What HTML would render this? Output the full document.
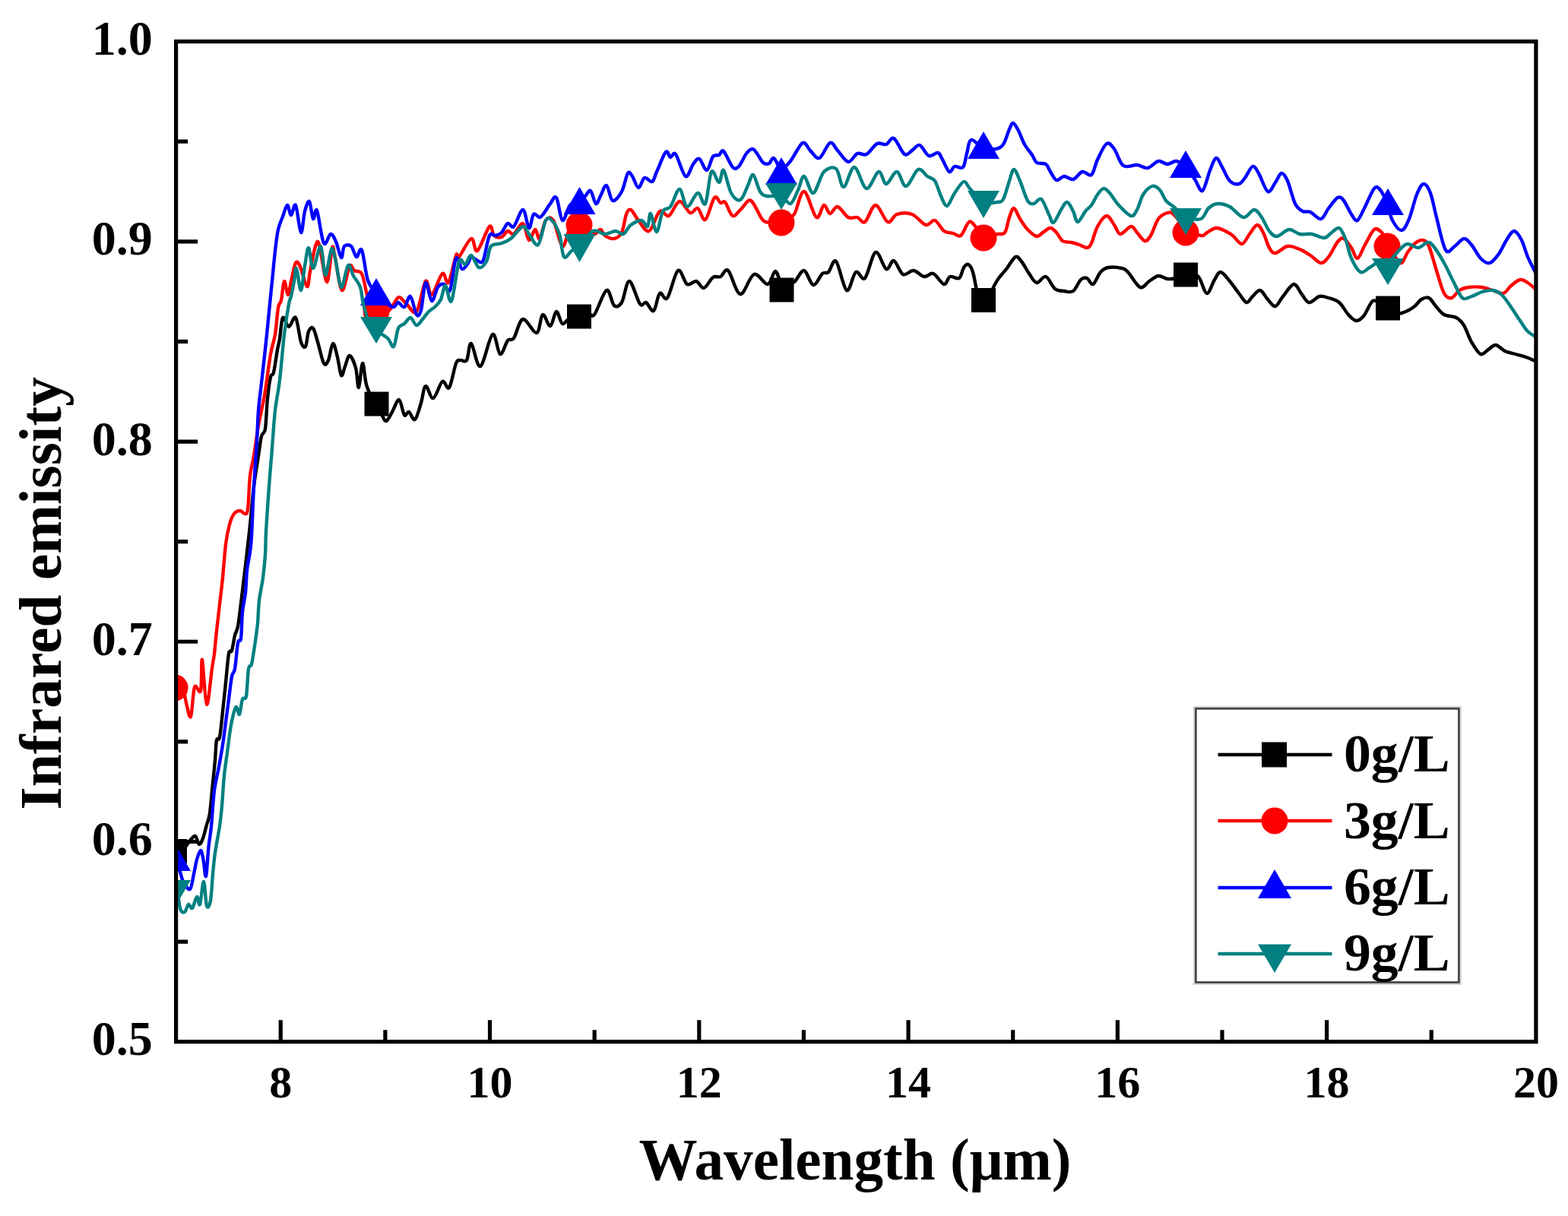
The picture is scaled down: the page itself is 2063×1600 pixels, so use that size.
<!DOCTYPE html>
<html><head><meta charset="utf-8"><title>Infrared emissity vs wavelength</title>
<style>html,body{margin:0;padding:0;background:#fff;}svg{display:block;}text{font-family:"Liberation Serif","Times New Roman",serif;font-weight:bold;fill:#000;}</style>
</head><body>
<svg width="2063" height="1600" viewBox="0 0 2063 1600">
<rect x="0" y="0" width="2063" height="1600" fill="#fff"/>
<defs><clipPath id="pa"><rect x="231.6" y="54.6" width="1789.3" height="1316.1"/></clipPath></defs>
<g clip-path="url(#pa)" fill="none" stroke-width="4.4" stroke-linejoin="round" stroke-linecap="round">
<path stroke="#000" d="M228 1118C230.0 1118.0 236.3 1120.0 240 1118C243.7 1116.0 247.2 1109.0 250 1106C252.8 1103.0 255.0 1099.2 257 1100C259.0 1100.8 260.3 1110.5 262 1111C263.7 1111.5 265.3 1107.3 267 1103C268.7 1098.7 270.5 1090.5 272 1085C273.5 1079.5 274.7 1079.2 276 1070C277.3 1060.8 278.8 1041.7 280 1030C281.2 1018.3 282.2 1009.3 283 1000C283.8 990.7 284.0 979.0 285 974C286.0 969.0 287.7 976.3 289 970C290.3 963.7 291.7 948.0 293 936C294.3 924.0 295.7 910.7 297 898C298.3 885.3 299.7 867.0 301 860C302.3 853.0 303.7 860.0 305 856C306.3 852.0 307.7 841.3 309 836C310.3 830.7 311.7 831.0 313 824C314.3 817.0 314.5 814.7 317 794C319.5 773.3 325.2 725.7 328 700C330.8 674.3 332.0 656.7 334 640C336.0 623.3 338.3 611.0 340 600C341.7 589.0 342.5 580.0 344 574C345.5 568.0 347.7 572.3 349 564C350.3 555.7 350.8 535.3 352 524C353.2 512.7 354.7 501.7 356 496C357.3 490.3 358.5 496.0 360 490C361.5 484.0 363.7 467.3 365 460C366.3 452.7 366.8 453.0 368 446C369.2 439.0 370.0 420.7 372 418C374.0 415.3 377.2 430.0 380 430C382.8 430.0 386.3 414.7 389 418C391.7 421.3 393.8 443.7 396 450C398.2 456.3 400.3 458.3 402 456C403.7 453.7 404.3 440.0 406 436C407.7 432.0 410.0 429.7 412 432C414.0 434.3 415.7 442.3 418 450C420.3 457.7 423.7 474.0 426 478C428.3 482.0 430.0 478.3 432 474C434.0 469.7 436.0 452.7 438 452C440.0 451.3 442.2 463.0 444 470C445.8 477.0 447.3 492.0 449 494C450.7 496.0 452.2 486.3 454 482C455.8 477.7 457.7 467.7 460 468C462.3 468.3 466.0 477.0 468 484C470.0 491.0 470.5 511.0 472 510C473.5 509.0 475.3 478.7 477 478C478.7 477.3 479.8 498.2 482 506C484.2 513.8 487.8 520.8 490 525C492.2 529.2 493.0 527.7 495 531C497.0 534.3 499.8 541.2 502 545C504.2 548.8 505.7 554.5 508 554C510.3 553.5 513.2 546.7 516 542C518.8 537.3 522.3 525.3 525 526C527.7 526.7 529.8 543.3 532 546C534.2 548.7 535.7 541.0 538 542C540.3 543.0 543.3 554.0 546 552C548.7 550.0 551.7 537.3 554 530C556.3 522.7 557.3 509.0 560 508C562.7 507.0 566.3 525.0 570 524C573.7 523.0 578.5 504.3 582 502C585.5 499.7 588.0 514.0 591 510C594.0 506.0 597.5 484.0 600 478C602.5 472.0 603.7 474.7 606 474C608.3 473.3 611.7 477.7 614 474C616.3 470.3 617.0 450.7 620 452C623.0 453.3 627.3 484.0 632 482C636.7 480.0 643.7 442.7 648 440C652.3 437.3 654.7 464.7 658 466C661.3 467.3 665.0 451.5 668 448C671.0 444.5 672.7 449.7 676 445C679.3 440.3 683.0 421.2 688 420C693.0 418.8 701.7 439.0 706 438C710.3 437.0 711.0 415.5 714 414C717.0 412.5 721.0 429.7 724 429C727.0 428.3 729.3 410.5 732 410C734.7 409.5 737.0 424.7 740 426C743.0 427.3 746.3 419.7 750 418C753.7 416.3 758.0 417.0 762 416C766.0 415.0 770.7 412.3 774 412C777.3 411.7 778.0 419.0 782 414C786.0 409.0 793.7 384.0 798 382C802.3 380.0 804.7 399.3 808 402C811.3 404.7 814.7 403.3 818 398C821.3 392.7 824.0 369.7 828 370C832.0 370.3 838.3 395.3 842 400C845.7 404.7 847.0 396.5 850 398C853.0 399.5 857.0 411.0 860 409C863.0 407.0 865.0 388.8 868 386C871.0 383.2 874.0 397.0 878 392C882.0 387.0 887.7 359.0 892 356C896.3 353.0 900.0 371.7 904 374C908.0 376.3 912.3 369.2 916 370C919.7 370.8 922.3 379.8 926 379C929.7 378.2 934.3 367.5 938 365C941.7 362.5 944.7 365.5 948 364C951.3 362.5 953.7 352.2 958 356C962.3 359.8 968.3 386.2 974 387C979.7 387.8 986.0 363.2 992 361C998.0 358.8 1005.3 374.7 1010 374C1014.7 373.3 1017.0 357.3 1020 357C1023.0 356.7 1024.7 369.5 1028 372C1031.3 374.5 1037.0 372.3 1040 372C1043.0 371.7 1043.0 372.7 1046 370C1049.0 367.3 1054.0 355.2 1058 356C1062.0 356.8 1066.0 374.3 1070 375C1074.0 375.7 1078.7 362.8 1082 360C1085.3 357.2 1087.0 360.7 1090 358C1093.0 355.3 1096.0 340.0 1100 344C1104.0 348.0 1109.7 379.7 1114 382C1118.3 384.3 1122.0 360.7 1126 358C1130.0 355.3 1133.7 370.3 1138 366C1142.3 361.7 1147.3 334.0 1152 332C1156.7 330.0 1162.0 352.2 1166 354C1170.0 355.8 1172.3 341.8 1176 343C1179.7 344.2 1183.7 358.8 1188 361C1192.3 363.2 1197.3 355.5 1202 356C1206.7 356.5 1211.7 363.3 1216 364C1220.3 364.7 1223.7 358.3 1228 360C1232.3 361.7 1238.3 373.3 1242 374C1245.7 374.7 1246.7 365.3 1250 364C1253.3 362.7 1259.0 368.0 1262 366C1265.0 364.0 1266.0 355.0 1268 352C1270.0 349.0 1272.0 347.0 1274 348C1276.0 349.0 1277.8 351.0 1280 358C1282.2 365.0 1284.7 383.8 1287 390C1289.3 396.2 1291.5 395.3 1294 395C1296.5 394.7 1299.7 391.2 1302 388C1304.3 384.8 1306.0 379.7 1308 376C1310.0 372.3 1311.3 369.7 1314 366C1316.7 362.3 1320.3 358.7 1324 354C1327.7 349.3 1332.7 339.7 1336 338C1339.3 336.3 1341.0 340.3 1344 344C1347.0 347.7 1350.7 355.3 1354 360C1357.3 364.7 1360.3 371.3 1364 372C1367.7 372.7 1372.0 362.7 1376 364C1380.0 365.3 1384.0 376.8 1388 380C1392.0 383.2 1396.0 382.5 1400 383C1404.0 383.5 1408.3 385.5 1412 383C1415.7 380.5 1419.0 370.8 1422 368C1425.0 365.2 1427.3 365.0 1430 366C1432.7 367.0 1435.0 375.3 1438 374C1441.0 372.7 1444.7 361.7 1448 358C1451.3 354.3 1453.3 352.8 1458 352C1462.7 351.2 1471.7 352.0 1476 353C1480.3 354.0 1480.0 353.8 1484 358C1488.0 362.2 1495.3 376.0 1500 378C1504.7 380.0 1508.0 372.5 1512 370C1516.0 367.5 1520.0 363.5 1524 363C1528.0 362.5 1532.0 366.5 1536 367C1540.0 367.5 1544.0 366.8 1548 366C1552.0 365.2 1556.3 363.0 1560 362C1563.7 361.0 1567.0 359.3 1570 360C1573.0 360.7 1575.0 361.7 1578 366C1581.0 370.3 1584.7 385.7 1588 386C1591.3 386.3 1595.0 372.7 1598 368C1601.0 363.3 1602.7 357.7 1606 358C1609.3 358.3 1614.0 365.3 1618 370C1622.0 374.7 1626.3 381.3 1630 386C1633.7 390.7 1637.0 397.3 1640 398C1643.0 398.7 1645.0 392.7 1648 390C1651.0 387.3 1654.7 381.3 1658 382C1661.3 382.7 1664.7 390.5 1668 394C1671.3 397.5 1674.7 403.7 1678 403C1681.3 402.3 1684.0 394.8 1688 390C1692.0 385.2 1698.0 374.7 1702 374C1706.0 373.3 1708.7 382.0 1712 386C1715.3 390.0 1718.0 397.3 1722 398C1726.0 398.7 1731.7 391.0 1736 390C1740.3 389.0 1743.7 390.7 1748 392C1752.3 393.3 1757.7 394.3 1762 398C1766.3 401.7 1770.3 410.0 1774 414C1777.7 418.0 1780.7 421.7 1784 422C1787.3 422.3 1790.3 420.3 1794 416C1797.7 411.7 1802.3 398.7 1806 396C1809.7 393.3 1812.7 398.5 1816 400C1819.3 401.5 1822.7 403.3 1826 405C1829.3 406.7 1833.0 408.8 1836 410C1839.0 411.2 1840.0 413.0 1844 412C1848.0 411.0 1855.7 407.0 1860 404C1864.3 401.0 1866.7 396.0 1870 394C1873.3 392.0 1876.7 390.3 1880 392C1883.3 393.7 1886.7 400.3 1890 404C1893.3 407.7 1895.7 411.7 1900 414C1904.3 416.3 1911.7 415.7 1916 418C1920.3 420.3 1922.7 422.7 1926 428C1929.3 433.3 1932.3 443.7 1936 450C1939.7 456.3 1944.3 464.3 1948 466C1951.7 467.7 1954.7 462.0 1958 460C1961.3 458.0 1964.3 453.7 1968 454C1971.7 454.3 1975.7 460.0 1980 462C1984.3 464.0 1989.3 464.7 1994 466C1998.7 467.3 2003.3 468.3 2008 470C2012.7 471.7 2019.7 475.0 2022 476"/>
<g stroke="none"><rect x="214" y="1104" width="32" height="32" fill="#000"/><rect x="479.5" y="515.5" width="32" height="32" fill="#000"/><rect x="746" y="400.5" width="32" height="32" fill="#000"/><rect x="1012.5" y="365.5" width="32" height="32" fill="#000"/><rect x="1278" y="379" width="32" height="32" fill="#000"/><rect x="1544" y="345.5" width="32" height="32" fill="#000"/><rect x="1810" y="389.5" width="32" height="32" fill="#000"/></g>
<path stroke="#f00" d="M228 905C228.8 903.8 230.8 898.0 233 898C235.2 898.0 239.0 900.5 241 905C243.0 909.5 243.3 918.7 245 925C246.7 931.3 249.2 946.5 251 943C252.8 939.5 253.8 909.7 256 904C258.2 898.3 262.3 915.0 264 909C265.7 903.0 264.7 865.0 266 868C267.3 871.0 269.8 925.2 272 927C274.2 928.8 277.3 890.2 279 879C280.7 867.8 281.0 868.2 282 860C283.0 851.8 283.8 840.8 285 830C286.2 819.2 287.7 806.7 289 795C290.3 783.3 291.7 773.2 293 760C294.3 746.8 295.5 727.7 297 716C298.5 704.3 300.2 696.7 302 690C303.8 683.3 305.7 679.0 308 676C310.3 673.0 313.7 672.0 316 672C318.3 672.0 320.3 676.3 322 676C323.7 675.7 324.8 678.3 326 670C327.2 661.7 327.7 637.7 329 626C330.3 614.3 332.2 611.0 334 600C335.8 589.0 337.7 573.3 340 560C342.3 546.7 345.3 535.7 348 520C350.7 504.3 353.7 479.3 356 466C358.3 452.7 360.3 450.2 362 440C363.7 429.8 364.7 412.5 366 405C367.3 397.5 368.7 400.8 370 395C371.3 389.2 372.5 371.2 374 370C375.5 368.8 377.5 388.0 379 388C380.5 388.0 381.3 377.0 383 370C384.7 363.0 387.0 349.2 389 346C391.0 342.8 392.5 345.8 395 351C397.5 356.2 401.8 376.0 404 377C406.2 378.0 406.2 365.8 408 357C409.8 348.2 413.0 329.8 415 324C417.0 318.2 417.5 314.2 420 322C422.5 329.8 427.2 370.3 430 371C432.8 371.7 435.2 331.2 437 326C438.8 320.8 438.8 330.7 441 340C443.2 349.3 446.8 380.3 450 382C453.2 383.7 457.3 354.3 460 350C462.7 345.7 463.7 354.7 466 356C468.3 357.3 472.0 356.3 474 358C476.0 359.7 476.0 359.0 478 366C480.0 373.0 483.2 392.7 486 400C488.8 407.3 491.0 408.3 495 410C499.0 411.7 506.2 411.7 510 410C513.8 408.3 515.5 403.2 518 400C520.5 396.8 522.2 391.0 525 391C527.8 391.0 531.2 396.8 535 400C538.8 403.2 543.8 415.0 548 410C552.2 405.0 556.7 373.7 560 370C563.3 366.3 564.3 389.7 568 388C571.7 386.3 578.3 362.7 582 360C585.7 357.3 587.0 376.0 590 372C593.0 368.0 597.7 341.7 600 336C602.3 330.3 600.7 341.7 604 338C607.3 334.3 616.0 315.3 620 314C624.0 312.7 624.0 332.7 628 330C632.0 327.3 640.3 301.3 644 298C647.7 294.7 647.3 307.7 650 310C652.7 312.3 657.0 313.0 660 312C663.0 311.0 665.3 304.7 668 304C670.7 303.3 672.7 309.7 676 308C679.3 306.3 684.7 292.7 688 294C691.3 295.3 693.3 314.7 696 316C698.7 317.3 701.7 302.3 704 302C706.3 301.7 707.7 316.0 710 314C712.3 312.0 715.0 294.0 718 290C721.0 286.0 724.3 284.3 728 290C731.7 295.7 736.3 322.3 740 324C743.7 325.7 746.3 304.7 750 300C753.7 295.3 758.3 296.0 762 296C765.7 296.0 768.7 298.0 772 300C775.3 302.0 779.0 307.7 782 308C785.0 308.3 787.7 301.7 790 302C792.3 302.3 793.0 308.0 796 310C799.0 312.0 804.3 314.7 808 314C811.7 313.3 815.3 311.3 818 306C820.7 300.7 822.0 287.0 824 282C826.0 277.0 827.3 274.7 830 276C832.7 277.3 836.0 285.3 840 290C844.0 294.7 849.3 306.0 854 304C858.7 302.0 863.7 281.3 868 278C872.3 274.7 875.7 286.2 880 284C884.3 281.8 889.3 265.7 894 265C898.7 264.3 904.0 278.5 908 280C912.0 281.5 914.7 272.5 918 274C921.3 275.5 924.3 291.3 928 289C931.7 286.7 936.7 263.7 940 260C943.3 256.3 945.7 266.0 948 267C950.3 268.0 951.3 263.2 954 266C956.7 268.8 960.3 282.7 964 284C967.7 285.3 972.0 277.3 976 274C980.0 270.7 983.3 261.3 988 264C992.7 266.7 999.3 285.3 1004 290C1008.7 294.7 1012.0 291.5 1016 292C1020.0 292.5 1024.0 294.0 1028 293C1032.0 292.0 1037.0 288.2 1040 286C1043.0 283.8 1043.0 285.7 1046 280C1049.0 274.3 1053.3 251.0 1058 252C1062.7 253.0 1069.7 283.0 1074 286C1078.3 289.0 1081.0 270.8 1084 270C1087.0 269.2 1089.0 280.7 1092 281C1095.0 281.3 1098.0 271.2 1102 272C1106.0 272.8 1111.7 283.7 1116 286C1120.3 288.3 1124.3 285.0 1128 286C1131.7 287.0 1134.0 294.7 1138 292C1142.0 289.3 1147.0 270.0 1152 270C1157.0 270.0 1163.3 290.0 1168 292C1172.7 294.0 1174.7 283.7 1180 282C1185.3 280.3 1193.7 279.7 1200 282C1206.3 284.3 1213.0 294.7 1218 296C1223.0 297.3 1226.0 288.7 1230 290C1234.0 291.3 1238.0 301.2 1242 304C1246.0 306.8 1250.3 306.0 1254 307C1257.7 308.0 1260.7 312.3 1264 310C1267.3 307.7 1271.3 295.7 1274 293C1276.7 290.3 1276.7 291.2 1280 294C1283.3 296.8 1288.7 307.7 1294 310C1299.3 312.3 1307.3 308.7 1312 308C1316.7 307.3 1319.3 309.7 1322 306C1324.7 302.3 1326.0 291.3 1328 286C1330.0 280.7 1331.7 273.7 1334 274C1336.3 274.3 1339.0 283.3 1342 288C1345.0 292.7 1348.3 298.2 1352 302C1355.7 305.8 1360.7 310.3 1364 311C1367.3 311.7 1369.0 307.8 1372 306C1375.0 304.2 1379.0 300.0 1382 300C1385.0 300.0 1387.3 303.2 1390 306C1392.7 308.8 1394.7 314.8 1398 317C1401.3 319.2 1406.3 318.2 1410 319C1413.7 319.8 1416.7 320.8 1420 322C1423.3 323.2 1427.3 326.3 1430 326C1432.7 325.7 1433.7 324.7 1436 320C1438.3 315.3 1440.7 304.0 1444 298C1447.3 292.0 1452.3 284.3 1456 284C1459.7 283.7 1463.0 292.0 1466 296C1469.0 300.0 1470.3 307.7 1474 308C1477.7 308.3 1484.3 298.3 1488 298C1491.7 297.7 1493.0 302.8 1496 306C1499.0 309.2 1503.0 316.3 1506 317C1509.0 317.7 1511.0 314.8 1514 310C1517.0 305.2 1520.3 293.0 1524 288C1527.7 283.0 1532.7 281.0 1536 280C1539.3 279.0 1540.0 278.7 1544 282C1548.0 285.3 1554.0 295.3 1560 300C1566.0 304.7 1575.3 309.0 1580 310C1584.7 311.0 1584.7 307.7 1588 306C1591.3 304.3 1596.0 300.3 1600 300C1604.0 299.7 1608.3 302.3 1612 304C1615.7 305.7 1618.3 307.2 1622 310C1625.7 312.8 1630.3 321.3 1634 321C1637.7 320.7 1640.7 312.2 1644 308C1647.3 303.8 1651.0 296.3 1654 296C1657.0 295.7 1659.3 301.0 1662 306C1664.7 311.0 1667.3 321.5 1670 326C1672.7 330.5 1674.0 333.3 1678 333C1682.0 332.7 1688.7 324.8 1694 324C1699.3 323.2 1705.0 326.0 1710 328C1715.0 330.0 1719.3 333.0 1724 336C1728.7 339.0 1734.0 345.7 1738 346C1742.0 346.3 1744.3 342.7 1748 338C1751.7 333.3 1756.7 322.0 1760 318C1763.3 314.0 1765.0 312.7 1768 314C1771.0 315.3 1775.0 321.7 1778 326C1781.0 330.3 1783.0 340.7 1786 340C1789.0 339.3 1792.3 328.3 1796 322C1799.7 315.7 1804.3 304.7 1808 302C1811.7 299.3 1815.0 303.0 1818 306C1821.0 309.0 1822.0 313.3 1826 320C1830.0 326.7 1837.7 344.0 1842 346C1846.3 348.0 1848.7 336.3 1852 332C1855.3 327.7 1858.7 322.7 1862 320C1865.3 317.3 1869.0 315.3 1872 316C1875.0 316.7 1877.0 317.3 1880 324C1883.0 330.7 1886.7 345.7 1890 356C1893.3 366.3 1896.7 380.0 1900 386C1903.3 392.0 1906.7 392.7 1910 392C1913.3 391.3 1916.3 384.3 1920 382C1923.7 379.7 1927.0 378.7 1932 378C1937.0 377.3 1944.7 377.3 1950 378C1955.3 378.7 1959.3 380.7 1964 382C1968.7 383.3 1974.0 387.0 1978 386C1982.0 385.0 1984.3 379.0 1988 376C1991.7 373.0 1996.3 368.7 2000 368C2003.7 367.3 2006.3 369.7 2010 372C2013.7 374.3 2020.0 380.3 2022 382"/>
<g stroke="none"><circle cx="230" cy="905" r="17.5" fill="#f00"/><circle cx="495" cy="410" r="17.5" fill="#f00"/><circle cx="762" cy="296" r="17.5" fill="#f00"/><circle cx="1028" cy="293" r="17.5" fill="#f00"/><circle cx="1294" cy="313" r="17.5" fill="#f00"/><circle cx="1560" cy="306" r="17.5" fill="#f00"/><circle cx="1825" cy="324" r="17.5" fill="#f00"/></g>
<path stroke="#00f" d="M228 1135C229.3 1136.7 233.8 1140.8 236 1145C238.2 1149.2 238.7 1155.8 241 1160C243.3 1164.2 247.7 1171.7 250 1170C252.3 1168.3 253.5 1156.5 255 1150C256.5 1143.5 257.5 1136.2 259 1131C260.5 1125.8 262.6 1119.0 264 1119C265.4 1119.0 266.3 1125.3 267.5 1131C268.7 1136.7 269.8 1155.8 271 1153C272.2 1150.2 273.3 1125.0 274.5 1114C275.7 1103.0 276.8 1099.3 278 1087C279.2 1074.7 280.3 1053.0 282 1040C283.7 1027.0 286.2 1019.0 288 1009C289.8 999.0 291.5 989.8 293 980C294.5 970.2 295.7 960.0 297 950C298.3 940.0 299.7 930.0 301 920C302.3 910.0 303.7 896.7 305 890C306.3 883.3 307.7 887.3 309 880C310.3 872.7 311.7 852.7 313 846C314.3 839.3 316.0 846.8 317 840C318.0 833.2 318.0 815.0 319 805C320.0 795.0 322.0 789.2 323 780C324.0 770.8 324.0 759.0 325 750C326.0 741.0 328.0 733.5 329 726C330.0 718.5 330.2 719.3 331 705C331.8 690.7 332.8 660.8 334 640C335.2 619.2 337.0 596.7 338 580C339.0 563.3 339.0 552.7 340 540C341.0 527.3 342.3 519.0 344 504C345.7 489.0 348.2 467.3 350 450C351.8 432.7 353.7 413.3 355 400C356.3 386.7 356.8 381.7 358 370C359.2 358.3 360.7 341.3 362 330C363.3 318.7 364.3 309.5 366 302C367.7 294.5 370.0 290.3 372 285C374.0 279.7 376.2 270.3 378 270C379.8 269.7 381.2 283.0 383 283C384.8 283.0 386.8 266.2 389 270C391.2 273.8 394.0 304.7 396 306C398.0 307.3 399.2 284.8 401 278C402.8 271.2 405.2 263.3 407 265C408.8 266.7 410.3 286.0 412 288C413.7 290.0 414.7 271.7 417 277C419.3 282.3 423.0 314.8 426 320C429.0 325.2 432.3 308.3 435 308C437.7 307.7 439.7 312.8 442 318C444.3 323.2 447.2 338.0 449 339C450.8 340.0 450.8 326.5 453 324C455.2 321.5 459.3 321.7 462 324C464.7 326.3 466.7 337.2 469 338C471.3 338.8 473.5 323.8 476 329C478.5 334.2 480.8 359.7 484 369C487.2 378.3 490.7 379.8 495 385C499.3 390.2 506.2 396.8 510 400C513.8 403.2 515.7 404.3 518 404C520.3 403.7 521.7 398.0 524 398C526.3 398.0 529.3 405.3 532 404C534.7 402.7 537.3 388.3 540 390C542.7 391.7 545.7 411.0 548 414C550.3 417.0 552.0 415.0 554 408C556.0 401.0 557.7 374.0 560 372C562.3 370.0 565.3 395.0 568 396C570.7 397.0 573.3 381.7 576 378C578.7 374.3 581.3 373.3 584 374C586.7 374.7 589.3 387.7 592 382C594.7 376.3 597.3 344.7 600 340C602.7 335.3 605.3 353.0 608 354C610.7 355.0 614.0 348.7 616 346C618.0 343.3 617.7 338.3 620 338C622.3 337.7 627.3 343.3 630 344C632.7 344.7 633.7 347.7 636 342C638.3 336.3 641.3 315.3 644 310C646.7 304.7 649.3 310.7 652 310C654.7 309.3 657.3 308.7 660 306C662.7 303.3 665.3 295.3 668 294C670.7 292.7 672.7 301.0 676 298C679.3 295.0 684.7 275.7 688 276C691.3 276.3 693.7 299.0 696 300C698.3 301.0 699.7 284.3 702 282C704.3 279.7 707.7 286.3 710 286C712.3 285.7 713.7 283.0 716 280C718.3 277.0 721.3 271.3 724 268C726.7 264.7 729.3 256.3 732 260C734.7 263.7 737.0 288.3 740 290C743.0 291.7 746.3 274.3 750 270C753.7 265.7 758.7 266.0 762 264C765.3 262.0 767.5 260.2 770 258C772.5 255.8 774.7 249.3 777 251C779.3 252.7 781.8 266.8 784 268C786.2 269.2 787.7 262.0 790 258C792.3 254.0 795.3 243.0 798 244C800.7 245.0 802.7 262.7 806 264C809.3 265.3 814.7 258.0 818 252C821.3 246.0 823.7 231.3 826 228C828.3 224.7 829.7 228.8 832 232C834.3 235.2 837.3 246.7 840 247C842.7 247.3 845.0 235.3 848 234C851.0 232.7 855.3 240.3 858 239C860.7 237.7 861.0 232.5 864 226C867.0 219.5 873.0 203.2 876 200C879.0 196.8 879.8 206.5 882 207C884.2 207.5 885.7 198.8 889 203C892.3 207.2 898.2 229.8 902 232C905.8 234.2 909.0 219.8 912 216C915.0 212.2 917.0 207.7 920 209C923.0 210.3 927.0 224.5 930 224C933.0 223.5 935.3 209.3 938 206C940.7 202.7 943.7 205.2 946 204C948.3 202.8 949.0 196.3 952 199C955.0 201.7 960.7 216.7 964 220C967.3 223.3 969.0 222.0 972 219C975.0 216.0 979.0 205.8 982 202C985.0 198.2 987.7 196.0 990 196C992.3 196.0 993.7 199.0 996 202C998.3 205.0 1001.3 211.8 1004 214C1006.7 216.2 1009.7 216.0 1012 215C1014.3 214.0 1015.3 206.8 1018 208C1020.7 209.2 1024.3 221.3 1028 222C1031.7 222.7 1035.3 217.7 1040 212C1044.7 206.3 1051.7 190.3 1056 188C1060.3 185.7 1062.3 194.7 1066 198C1069.7 201.3 1073.7 209.7 1078 208C1082.3 206.3 1088.0 189.7 1092 188C1096.0 186.3 1098.0 193.8 1102 198C1106.0 202.2 1111.7 212.3 1116 213C1120.3 213.7 1124.0 203.7 1128 202C1132.0 200.3 1135.7 205.2 1140 203C1144.3 200.8 1149.7 191.2 1154 189C1158.3 186.8 1162.3 191.2 1166 190C1169.7 188.8 1172.0 179.8 1176 182C1180.0 184.2 1186.0 200.3 1190 203C1194.0 205.7 1196.7 200.0 1200 198C1203.3 196.0 1206.3 189.8 1210 191C1213.7 192.2 1218.0 203.3 1222 205C1226.0 206.7 1231.0 200.2 1234 201C1237.0 201.8 1237.5 205.8 1240 210C1242.5 214.2 1246.3 224.5 1249 226C1251.7 227.5 1253.0 220.0 1256 219C1259.0 218.0 1264.3 222.8 1267 220C1269.7 217.2 1270.2 208.0 1272 202C1273.8 196.0 1274.3 185.0 1278 184C1281.7 183.0 1288.7 194.0 1294 196C1299.3 198.0 1305.7 197.0 1310 196C1314.3 195.0 1317.0 194.3 1320 190C1323.0 185.7 1325.8 174.7 1328 170C1330.2 165.3 1331.0 161.7 1333 162C1335.0 162.3 1337.5 167.3 1340 172C1342.5 176.7 1345.0 184.7 1348 190C1351.0 195.3 1355.3 200.0 1358 204C1360.7 208.0 1361.0 212.0 1364 214C1367.0 216.0 1373.0 214.0 1376 216C1379.0 218.0 1379.7 222.5 1382 226C1384.3 229.5 1387.0 236.0 1390 237C1393.0 238.0 1396.3 232.2 1400 232C1403.7 231.8 1408.0 237.0 1412 236C1416.0 235.0 1420.0 227.0 1424 226C1428.0 225.0 1432.7 232.7 1436 230C1439.3 227.3 1440.7 216.8 1444 210C1447.3 203.2 1452.3 191.3 1456 189C1459.7 186.7 1462.3 191.2 1466 196C1469.7 200.8 1473.0 214.5 1478 218C1483.0 221.5 1490.7 216.5 1496 217C1501.3 217.5 1505.3 221.8 1510 221C1514.7 220.2 1519.7 212.8 1524 212C1528.3 211.2 1532.0 216.0 1536 216C1540.0 216.0 1544.0 211.3 1548 212C1552.0 212.7 1556.0 216.0 1560 220C1564.0 224.0 1568.3 230.8 1572 236C1575.7 241.2 1578.7 253.0 1582 251C1585.3 249.0 1589.0 231.2 1592 224C1595.0 216.8 1597.3 208.7 1600 208C1602.7 207.3 1605.0 215.0 1608 220C1611.0 225.0 1614.3 234.3 1618 238C1621.7 241.7 1626.7 242.7 1630 242C1633.3 241.3 1635.0 237.8 1638 234C1641.0 230.2 1645.0 220.0 1648 219C1651.0 218.0 1652.7 222.5 1656 228C1659.3 233.5 1664.3 250.0 1668 252C1671.7 254.0 1675.0 244.0 1678 240C1681.0 236.0 1683.3 228.3 1686 228C1688.7 227.7 1691.0 231.3 1694 238C1697.0 244.7 1700.7 261.3 1704 268C1707.3 274.7 1710.7 276.2 1714 278C1717.3 279.8 1720.0 277.3 1724 279C1728.0 280.7 1734.0 288.8 1738 288C1742.0 287.2 1744.3 278.7 1748 274C1751.7 269.3 1756.7 261.7 1760 260C1763.3 258.3 1765.0 260.3 1768 264C1771.0 267.7 1775.0 277.7 1778 282C1781.0 286.3 1783.0 291.7 1786 290C1789.0 288.3 1792.3 279.0 1796 272C1799.7 265.0 1804.7 251.7 1808 248C1811.3 244.3 1813.0 246.3 1816 250C1819.0 253.7 1823.3 263.3 1826 270C1828.7 276.7 1829.0 284.5 1832 290C1835.0 295.5 1840.3 303.3 1844 303C1847.7 302.7 1850.7 295.8 1854 288C1857.3 280.2 1860.8 263.7 1864 256C1867.2 248.3 1870.0 242.3 1873 242C1876.0 241.7 1879.2 246.7 1882 254C1884.8 261.3 1886.7 273.5 1890 286C1893.3 298.5 1898.0 322.7 1902 329C1906.0 335.3 1910.0 326.5 1914 324C1918.0 321.5 1922.3 314.3 1926 314C1929.7 313.7 1932.3 317.7 1936 322C1939.7 326.3 1944.0 336.0 1948 340C1952.0 344.0 1956.0 347.0 1960 346C1964.0 345.0 1968.3 339.0 1972 334C1975.7 329.0 1978.7 321.0 1982 316C1985.3 311.0 1988.7 304.0 1992 304C1995.3 304.0 1999.0 310.3 2002 316C2005.0 321.7 2006.7 330.3 2010 338C2013.3 345.7 2020.0 358.0 2022 362"/>
<g stroke="none"><polygon points="230,1110 209,1146 251,1146" fill="#00f"/><polygon points="495,366 474,402 516,402" fill="#00f"/><polygon points="762.5,246 741.5,282 783.5,282" fill="#00f"/><polygon points="1028,207 1007,243 1049,243" fill="#00f"/><polygon points="1294,173 1273,209 1315,209" fill="#00f"/><polygon points="1560,198 1539,234 1581,234" fill="#00f"/><polygon points="1826,248 1805,283 1847,283" fill="#00f"/></g>
<path stroke="#008080" d="M228 1150C228.7 1151.7 230.5 1152.5 232 1160C233.5 1167.5 235.2 1188.3 237 1195C238.8 1201.7 241.2 1200.8 243 1200C244.8 1199.2 246.3 1190.8 248 1190C249.7 1189.2 251.2 1196.7 253 1195C254.8 1193.3 257.3 1180.8 259 1180C260.7 1179.2 261.5 1193.3 263 1190C264.5 1186.7 266.5 1159.7 268 1160C269.5 1160.3 270.5 1187.8 272 1192C273.5 1196.2 275.7 1192.0 277 1185C278.3 1178.0 279.0 1160.5 280 1150C281.0 1139.5 281.5 1132.5 283 1122C284.5 1111.5 287.5 1097.3 289 1087C290.5 1076.7 291.0 1071.2 292 1060C293.0 1048.8 293.8 1031.7 295 1020C296.2 1008.3 297.7 1000.0 299 990C300.3 980.0 301.7 968.3 303 960C304.3 951.7 305.7 945.0 307 940C308.3 935.0 309.7 930.0 311 930C312.3 930.0 313.7 941.7 315 940C316.3 938.3 317.5 924.0 319 920C320.5 916.0 322.7 922.7 324 916C325.3 909.3 325.8 887.0 327 880C328.2 873.0 329.7 879.0 331 874C332.3 869.0 333.7 859.0 335 850C336.3 841.0 338.0 830.0 339 820C340.0 810.0 339.8 800.0 341 790C342.2 780.0 344.7 770.0 346 760C347.3 750.0 348.3 740.0 349 730C349.7 720.0 349.2 715.0 350 700C350.8 685.0 352.7 658.3 354 640C355.3 621.7 356.7 606.7 358 590C359.3 573.3 360.3 555.0 362 540C363.7 525.0 366.0 516.7 368 500C370.0 483.3 372.0 456.7 374 440C376.0 423.3 378.5 408.3 380 400C381.5 391.7 381.8 395.0 383 390C384.2 385.0 385.8 376.2 387 370C388.2 363.8 388.5 351.0 390 353C391.5 355.0 394.2 382.5 396 382C397.8 381.5 399.3 359.3 401 350C402.7 340.7 404.2 325.5 406 326C407.8 326.5 409.3 353.3 412 353C414.7 352.7 419.3 322.5 422 324C424.7 325.5 425.7 361.3 428 362C430.3 362.7 433.8 331.7 436 328C438.2 324.3 438.8 331.7 441 340C443.2 348.3 446.2 376.5 449 378C451.8 379.5 455.3 351.5 458 349C460.7 346.5 462.3 358.2 465 363C467.7 367.8 471.8 371.8 474 378C476.2 384.2 476.0 392.2 478 400C480.0 407.8 483.2 419.2 486 425C488.8 430.8 491.0 431.7 495 435C499.0 438.3 506.2 441.5 510 445C513.8 448.5 515.7 458.2 518 456C520.3 453.8 521.7 437.0 524 432C526.3 427.0 529.3 428.3 532 426C534.7 423.7 537.3 417.7 540 418C542.7 418.3 545.3 427.7 548 428C550.7 428.3 553.3 423.0 556 420C558.7 417.0 561.3 412.7 564 410C566.7 407.3 569.3 406.7 572 404C574.7 401.3 577.7 398.7 580 394C582.3 389.3 583.7 375.7 586 376C588.3 376.3 591.0 401.3 594 396C597.0 390.7 601.0 352.0 604 344C607.0 336.0 609.3 349.3 612 348C614.7 346.7 617.0 335.3 620 336C623.0 336.7 626.7 350.7 630 352C633.3 353.3 637.3 348.7 640 344C642.7 339.3 642.7 328.0 646 324C649.3 320.0 655.7 321.7 660 320C664.3 318.3 667.3 317.7 672 314C676.7 310.3 684.0 299.0 688 298C692.0 297.0 692.7 304.0 696 308C699.3 312.0 704.3 325.0 708 322C711.7 319.0 715.0 295.3 718 290C721.0 284.7 723.0 287.0 726 290C729.0 293.0 733.3 300.0 736 308C738.7 316.0 739.3 334.3 742 338C744.7 341.7 748.7 332.2 752 330C755.3 327.8 757.3 329.3 762 325C766.7 320.7 774.3 306.8 780 304C785.7 301.2 791.0 308.0 796 308C801.0 308.0 806.0 304.0 810 304C814.0 304.0 816.7 309.3 820 308C823.3 306.7 826.0 299.0 830 296C834.0 293.0 840.3 289.7 844 290C847.7 290.3 850.0 299.5 852 298C854.0 296.5 854.0 279.8 856 281C858.0 282.2 861.3 305.5 864 305C866.7 304.5 869.0 283.5 872 278C875.0 272.5 878.3 276.8 882 272C885.7 267.2 890.3 249.0 894 249C897.7 249.0 900.0 271.2 904 272C908.0 272.8 914.0 254.7 918 254C922.0 253.3 925.0 272.7 928 268C931.0 263.3 933.0 230.7 936 226C939.0 221.3 943.3 240.3 946 240C948.7 239.7 949.3 221.7 952 224C954.7 226.3 958.3 247.5 962 254C965.7 260.5 970.3 264.7 974 263C977.7 261.3 981.2 249.5 984 244C986.8 238.5 988.3 228.7 991 230C993.7 231.3 997.0 247.3 1000 252C1003.0 256.7 1004.3 257.0 1009 258C1013.7 259.0 1022.8 256.3 1028 258C1033.2 259.7 1036.3 269.3 1040 268C1043.7 266.7 1047.0 256.0 1050 250C1053.0 244.0 1054.7 231.3 1058 232C1061.3 232.7 1065.7 255.0 1070 254C1074.3 253.0 1079.0 231.3 1084 226C1089.0 220.7 1095.7 218.7 1100 222C1104.3 225.3 1106.0 246.3 1110 246C1114.0 245.7 1119.0 219.7 1124 220C1129.0 220.3 1134.7 247.0 1140 248C1145.3 249.0 1151.7 227.0 1156 226C1160.3 225.0 1162.0 242.0 1166 242C1170.0 242.0 1175.7 225.5 1180 226C1184.3 226.5 1187.3 245.5 1192 245C1196.7 244.5 1203.3 225.2 1208 223C1212.7 220.8 1216.3 229.5 1220 232C1223.7 234.5 1227.0 233.7 1230 238C1233.0 242.3 1235.3 252.5 1238 258C1240.7 263.5 1243.0 271.7 1246 271C1249.0 270.3 1252.3 259.3 1256 254C1259.7 248.7 1264.7 240.0 1268 239C1271.3 238.0 1271.7 243.5 1276 248C1280.3 252.5 1288.0 263.0 1294 266C1300.0 269.0 1307.7 266.7 1312 266C1316.3 265.3 1317.3 266.7 1320 262C1322.7 257.3 1325.7 244.5 1328 238C1330.3 231.5 1331.7 223.0 1334 223C1336.3 223.0 1339.0 231.2 1342 238C1345.0 244.8 1349.0 259.0 1352 264C1355.0 269.0 1357.0 268.3 1360 268C1363.0 267.7 1366.7 259.7 1370 262C1373.3 264.3 1377.3 276.8 1380 282C1382.7 287.2 1383.3 294.0 1386 293C1388.7 292.0 1393.0 280.5 1396 276C1399.0 271.5 1401.3 265.7 1404 266C1406.7 266.3 1409.7 273.7 1412 278C1414.3 282.3 1415.3 292.0 1418 292C1420.7 292.0 1425.0 281.7 1428 278C1431.0 274.3 1433.3 273.7 1436 270C1438.7 266.3 1441.3 259.7 1444 256C1446.7 252.3 1449.3 248.3 1452 248C1454.7 247.7 1456.7 250.3 1460 254C1463.3 257.7 1467.3 265.0 1472 270C1476.7 275.0 1484.0 283.0 1488 284C1492.0 285.0 1493.3 280.7 1496 276C1498.7 271.3 1500.7 261.2 1504 256C1507.3 250.8 1512.3 246.0 1516 245C1519.7 244.0 1523.0 246.8 1526 250C1529.0 253.2 1531.0 260.3 1534 264C1537.0 267.7 1539.7 268.5 1544 272C1548.3 275.5 1554.0 282.3 1560 285C1566.0 287.7 1575.0 289.8 1580 288C1585.0 286.2 1586.3 277.3 1590 274C1593.7 270.7 1597.3 268.3 1602 268C1606.7 267.7 1612.3 269.0 1618 272C1623.7 275.0 1630.7 285.3 1636 286C1641.3 286.7 1646.0 276.0 1650 276C1654.0 276.0 1656.7 281.3 1660 286C1663.3 290.7 1666.7 299.8 1670 304C1673.3 308.2 1675.7 311.3 1680 311C1684.3 310.7 1691.0 302.5 1696 302C1701.0 301.5 1705.0 307.0 1710 308C1715.0 309.0 1720.7 307.2 1726 308C1731.3 308.8 1737.7 313.3 1742 313C1746.3 312.7 1748.7 308.2 1752 306C1755.3 303.8 1759.0 298.7 1762 300C1765.0 301.3 1767.3 307.3 1770 314C1772.7 320.7 1774.7 332.7 1778 340C1781.3 347.3 1786.0 356.0 1790 358C1794.0 360.0 1798.3 354.0 1802 352C1805.7 350.0 1808.0 347.2 1812 346C1816.0 344.8 1821.0 348.0 1826 345C1831.0 342.0 1837.7 332.0 1842 328C1846.3 324.0 1848.0 321.3 1852 321C1856.0 320.7 1861.7 326.3 1866 326C1870.3 325.7 1874.7 319.3 1878 319C1881.3 318.7 1882.3 319.5 1886 324C1889.7 328.5 1895.7 338.3 1900 346C1904.3 353.7 1908.0 362.3 1912 370C1916.0 377.7 1920.0 388.7 1924 392C1928.0 395.3 1931.7 391.3 1936 390C1940.3 388.7 1945.3 385.3 1950 384C1954.7 382.7 1959.7 381.3 1964 382C1968.3 382.7 1972.0 384.3 1976 388C1980.0 391.7 1984.0 398.3 1988 404C1992.0 409.7 1996.3 416.7 2000 422C2003.7 427.3 2006.3 432.3 2010 436C2013.7 439.7 2020.0 442.7 2022 444"/>
<g stroke="none"><polygon points="209,1158 251,1158 230,1194" fill="#008080"/><polygon points="474,417 516,417 495,452" fill="#008080"/><polygon points="741.5,308 783.5,308 762.5,345" fill="#008080"/><polygon points="1007,241 1049,241 1028,276" fill="#008080"/><polygon points="1273,251 1315,251 1294,287" fill="#008080"/><polygon points="1539,274 1581,274 1560,309" fill="#008080"/><polygon points="1805,340 1847,340 1826,375" fill="#008080"/></g>
</g>
<rect x="231.6" y="54.6" width="1789.3" height="1316.1" fill="none" stroke="#000" stroke-width="5.2"/>
<path d="M369.238 1370.7V1342.2M506.877 1370.7V1355.2M644.515 1370.7V1342.2M782.154 1370.7V1355.2M919.792 1370.7V1342.2M1057.43 1370.7V1355.2M1195.07 1370.7V1342.2M1332.71 1370.7V1355.2M1470.35 1370.7V1342.2M1607.98 1370.7V1355.2M1745.62 1370.7V1342.2M1883.26 1370.7V1355.2M231.6 1239.09H247.1M231.6 1107.48H260.1M231.6 975.87H247.1M231.6 844.26H260.1M231.6 712.65H247.1M231.6 581.04H260.1M231.6 449.43H247.1M231.6 317.82H260.1M231.6 186.21H247.1" stroke="#000" stroke-width="5.2" fill="none"/>
<text x="200.8" y="72.1" font-size="64" text-anchor="end">1.0</text>
<text x="200.8" y="335.32" font-size="64" text-anchor="end">0.9</text>
<text x="200.8" y="598.54" font-size="64" text-anchor="end">0.8</text>
<text x="200.8" y="861.76" font-size="64" text-anchor="end">0.7</text>
<text x="200.8" y="1124.98" font-size="64" text-anchor="end">0.6</text>
<text x="200.8" y="1388.2" font-size="64" text-anchor="end">0.5</text>
<text x="369.238" y="1443.8" font-size="60" text-anchor="middle">8</text>
<text x="644.515" y="1443.8" font-size="60" text-anchor="middle">10</text>
<text x="919.792" y="1443.8" font-size="60" text-anchor="middle">12</text>
<text x="1195.07" y="1443.8" font-size="60" text-anchor="middle">14</text>
<text x="1470.35" y="1443.8" font-size="60" text-anchor="middle">16</text>
<text x="1745.62" y="1443.8" font-size="60" text-anchor="middle">18</text>
<text x="2020.9" y="1443.8" font-size="60" text-anchor="middle">20</text>
<text transform="translate(1125 1552) scale(0.977 1)" font-size="79" text-anchor="middle">Wavelength (μm)</text>
<text transform="translate(80.3 780.75) rotate(-90) scale(0.982 1)" font-size="79" text-anchor="middle">Infrared emissity</text>
<rect x="1573.3" y="932.4" width="346.1" height="360.1" fill="none" stroke="#d4d4d4" stroke-width="7"/>
<rect x="1573.3" y="932.4" width="346.1" height="360.1" fill="#fff" stroke="#444" stroke-width="2.7"/>
<line x1="1602.5" y1="993" x2="1752.5" y2="993" stroke="#000" stroke-width="4.6"/>
<rect x="1660" y="976.5" width="33" height="33" fill="#000"/>
<text transform="translate(1768 1015) scale(1.04 1)" font-size="69">0g/L</text>
<line x1="1602.5" y1="1080" x2="1752.5" y2="1080" stroke="#f00" stroke-width="4.6"/>
<circle cx="1677" cy="1080" r="17.5" fill="#f00"/>
<text transform="translate(1768 1102.5) scale(1.04 1)" font-size="69">3g/L</text>
<line x1="1602.5" y1="1168" x2="1752.5" y2="1168" stroke="#00f" stroke-width="4.6"/>
<polygon points="1677,1144 1655,1182 1699,1182" fill="#00f"/>
<text transform="translate(1768 1190) scale(1.04 1)" font-size="69">6g/L</text>
<line x1="1602.5" y1="1255" x2="1752.5" y2="1255" stroke="#008080" stroke-width="4.6"/>
<polygon points="1655,1242.5 1699,1242.5 1677,1280" fill="#008080"/>
<text transform="translate(1768 1277) scale(1.04 1)" font-size="69">9g/L</text>
</svg>
</body></html>
